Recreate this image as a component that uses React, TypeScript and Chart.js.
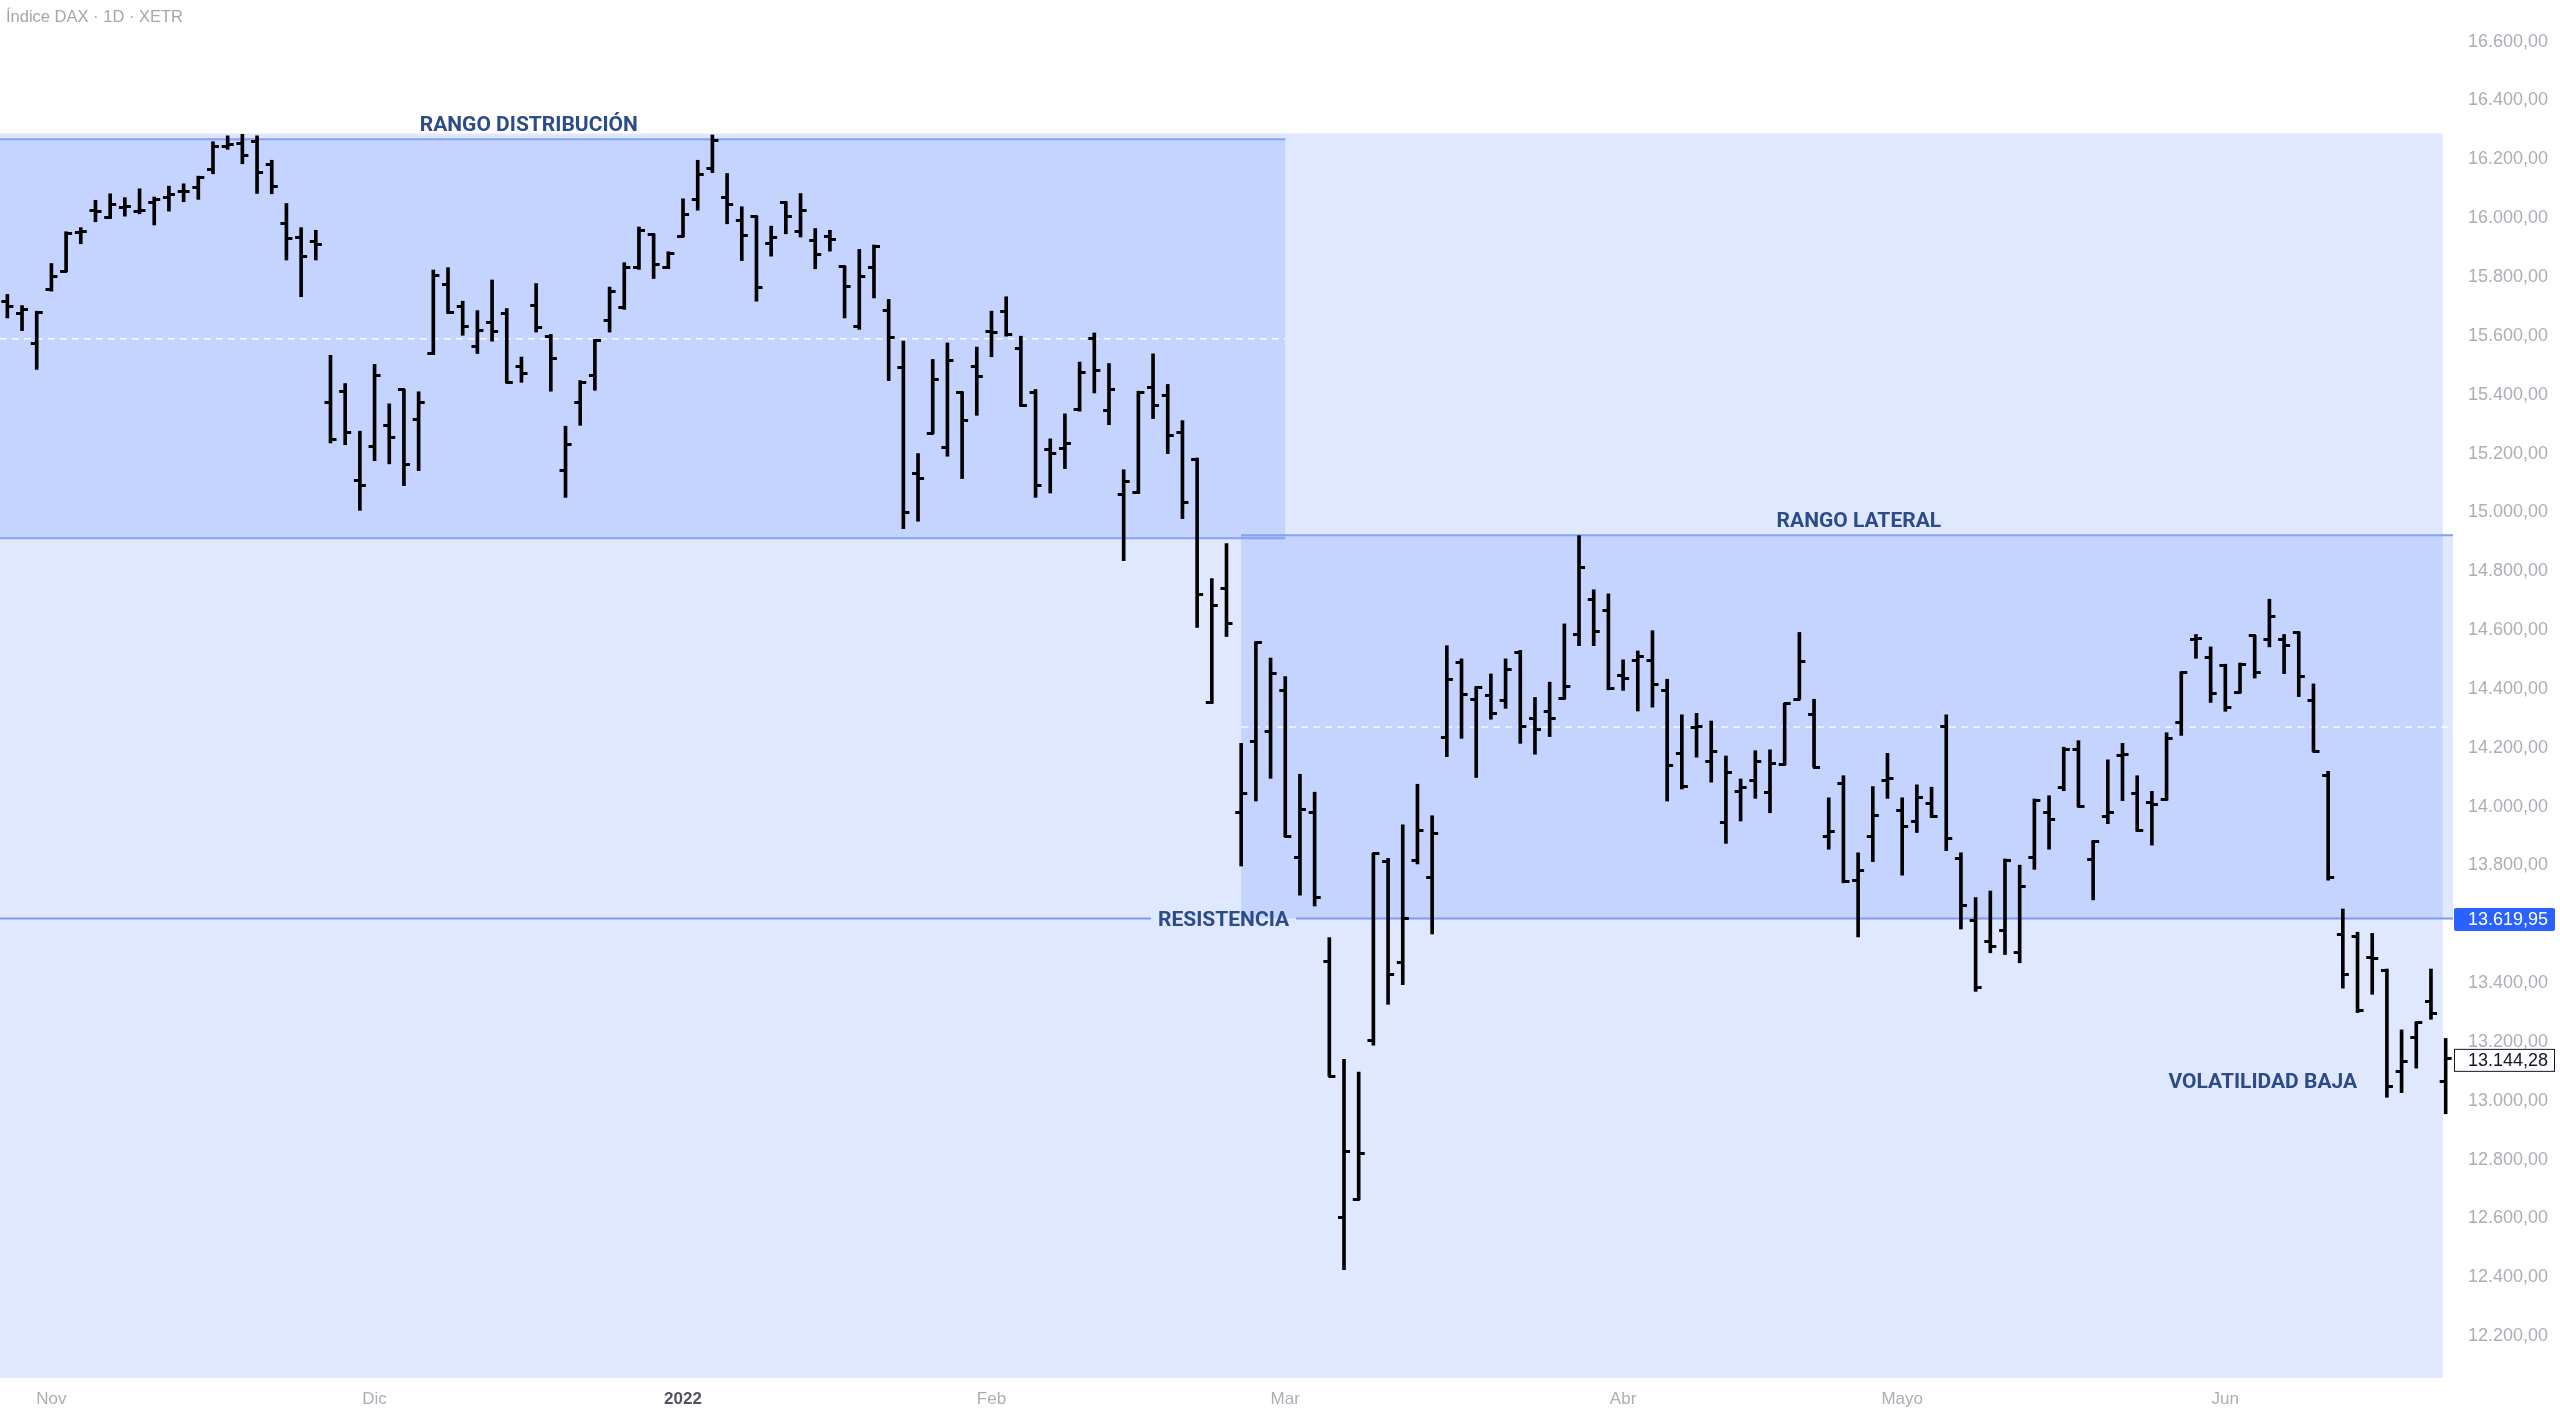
import React, { useEffect, useRef } from 'react';
import { Chart, registerables } from 'chart.js';

Chart.register(...registerables);

// Trading days per month (XETR, 27 Oct 2021 – 22 Jun 2022)
const octDays = [27, 28, 29];
const novDays = [1, 2, 3, 4, 5, 8, 9, 10, 11, 12, 15, 16, 17, 18, 19, 22, 23, 24, 25, 26, 29, 30];
const decDays = [1, 2, 3, 6, 7, 8, 9, 10, 13, 14, 15, 16, 17, 20, 21, 22, 23, 27, 28, 29, 30];
const janDays = [3, 4, 5, 6, 7, 10, 11, 12, 13, 14, 17, 18, 19, 20, 21, 24, 25, 26, 27, 28, 31];
const febDays = [1, 2, 3, 4, 7, 8, 9, 10, 11, 14, 15, 16, 17, 18, 21, 22, 23, 24, 25, 28];
const marDays = [1, 2, 3, 4, 7, 8, 9, 10, 11, 14, 15, 16, 17, 18, 21, 22, 23, 24, 25, 28, 29, 30, 31];
const aprDays = [1, 4, 5, 6, 7, 8, 11, 12, 13, 14, 19, 20, 21, 22, 25, 26, 27, 28, 29];
const mayDays = [2, 3, 4, 5, 6, 9, 10, 11, 12, 13, 16, 17, 18, 19, 20, 23, 24, 25, 26, 27, 30, 31];
const junDays = [1, 2, 3, 6, 7, 8, 9, 10, 13, 14, 15, 16, 17, 20, 21, 22];
const monthDays = [octDays, novDays, decDays, janDays, febDays, marDays, aprDays, mayDays, junDays];
const monthKeys = ['2021-10', '2021-11', '2021-12', '2022-01', '2022-02', '2022-03', '2022-04', '2022-05', '2022-06'];
const monthTickLabels = ['', 'Nov', 'Dic', '2022', 'Feb', 'Mar', 'Abr', 'Mayo', 'Jun'];

const opens = [
  15718, 15675, 15574, 15758, 15820, 15953, 16027, 16002, 16036, 16022,
  16053, 16070, 16090, 16104, 16166, 16245, 16253, 16262, 16183, 15981,
  15934, 15922, 15374, 15410, 15108, 15225, 15295, 15418, 15315, 15539,
  15775, 15701, 15563, 15647, 15675, 15495, 15703, 15599, 15143, 15372,
  15466, 15652, 15698, 15832, 15945, 15832, 15939, 16064, 16169, 16070,
  15993, 16005, 15913, 16053, 15954, 15924, 15939, 15835, 15633, 15832,
  15687, 15491, 15131, 15268, 15221, 15406, 15497, 15614, 15682, 15557,
  15406, 15213, 15216, 15349, 15590, 15347, 15060, 15066, 15423, 15398,
  15272, 15181, 14354, 14743, 13981, 14221, 14255, 14395, 13826, 13981,
  13475, 12603, 12664, 13206, 13813, 13469, 13816, 13758, 14236, 14490,
  14363, 14378, 14359, 14525, 14298, 14323, 14366, 14584, 14703, 14667,
  14445, 14495, 14495, 14393, 14179, 14269, 14155, 13947, 14053, 14088,
  14047, 14144, 14365, 14312, 13900, 14077, 13750, 13898, 14088, 13988,
  13951, 14011, 14272, 13824, 13614, 13543, 13580, 13503, 13827, 13979,
  14066, 14194, 13819, 13966, 14174, 14043, 14014, 14025, 14285, 14569,
  14508, 14478, 14389, 14582, 14567, 14567, 14591, 14360, 14105, 13564,
  13557, 13486, 13442, 13099, 13215, 13336, 13066,
];
const highs = [
  15741, 15703, 15684, 15846, 15954, 15968, 16061, 16083, 16070, 16100,
  16072, 16109, 16117, 16143, 16260, 16280, 16285, 16280, 16197, 16050,
  15968, 15959, 15534, 15438, 15276, 15503, 15369, 15418, 15410, 15824,
  15832, 15718, 15686, 15790, 15693, 15528, 15778, 15605, 15293, 15448,
  15588, 15766, 15849, 15970, 15947, 15886, 16066, 16197, 16283, 16152,
  16039, 16007, 15973, 16056, 16084, 15965, 15959, 15837, 15894, 15909,
  15724, 15582, 15200, 15520, 15576, 15410, 15562, 15684, 15733, 15599,
  15418, 15250, 15335, 15511, 15610, 15506, 15145, 15412, 15539, 15435,
  15312, 15185, 14775, 14894, 14215, 14561, 14505, 14442, 14110, 14049,
  13555, 13141, 13098, 13841, 13824, 13938, 14076, 13969, 14547, 14502,
  14408, 14451, 14502, 14531, 14371, 14423, 14621, 14921, 14737, 14723,
  14499, 14529, 14598, 14433, 14312, 14317, 14291, 14172, 14094, 14190,
  14193, 14351, 14592, 14365, 14030, 14105, 13843, 14068, 14181, 14030,
  14074, 14066, 14312, 13843, 13691, 13713, 13822, 13801, 14026, 14037,
  14202, 14224, 13884, 14159, 14215, 14105, 14052, 14251, 14458, 14585,
  14543, 14484, 14488, 14582, 14705, 14585, 14594, 14417, 14120, 13652,
  13573, 13569, 13448, 13241, 13268, 13448, 13212,
];
const lows = [
  15661, 15618, 15486, 15752, 15818, 15913, 15988, 15999, 16007, 16015,
  15977, 16024, 16056, 16064, 16151, 16234, 16185, 16084, 16083, 15858,
  15733, 15858, 15236, 15230, 15007, 15176, 15165, 15091, 15142, 15537,
  15676, 15602, 15540, 15582, 15440, 15442, 15613, 15412, 15051, 15296,
  15415, 15613, 15690, 15826, 15795, 15829, 15937, 16027, 16155, 15981,
  15856, 15718, 15871, 15947, 15936, 15828, 15888, 15661, 15622, 15729,
  15448, 14945, 14970, 15268, 15191, 15115, 15330, 15529, 15599, 15361,
  15051, 15066, 15149, 15344, 15406, 15298, 14836, 15064, 15319, 15200,
  14979, 14609, 14351, 14578, 13798, 14019, 14096, 13898, 13699, 13662,
  13084, 12426, 12664, 13189, 13328, 13395, 13805, 13567, 14170, 14232,
  14099, 14297, 14334, 14215, 14178, 14238, 14366, 14547, 14547, 14397,
  14395, 14325, 14338, 14019, 14060, 14168, 14083, 13875, 13951, 14028,
  13979, 14142, 14365, 14134, 13855, 13741, 13557, 13813, 14028, 13767,
  13912, 13963, 13850, 13584, 13372, 13503, 13497, 13469, 13787, 13855,
  14054, 13999, 13683, 13942, 14020, 13916, 13869, 14022, 14242, 14504,
  14354, 14324, 14386, 14437, 14543, 14452, 14374, 14188, 13750, 13383,
  13300, 13362, 13012, 13028, 13111, 13277, 12956,
];
const closes = [
  15700, 15690, 15678, 15801, 15948, 15956, 16024, 16047, 16040, 16027,
  16063, 16079, 16092, 16140, 16245, 16249, 16214, 16155, 16107, 15931,
  15871, 15909, 15247, 15272, 15092, 15466, 15256, 15162, 15372, 15805,
  15678, 15633, 15618, 15614, 15442, 15471, 15630, 15523, 15230, 15440,
  15585, 15750, 15832, 15959, 15843, 15879, 16013, 16147, 16265, 16045,
  15942, 15763, 15934, 16005, 16027, 15875, 15926, 15767, 15803, 15905,
  15596, 15001, 15115, 15452, 15517, 15312, 15463, 15613, 15605, 15363,
  15092, 15200, 15234, 15474, 15483, 15418, 15106, 15406, 15363, 15262,
  15035, 14722, 14684, 14621, 14043, 14558, 14451, 13898, 13991, 13690,
  13084, 12826, 12820, 13841, 13430, 13620, 13918, 13909, 14433, 14380,
  14406, 14317, 14465, 14272, 14263, 14298, 14408, 14813, 14595, 14403,
  14437, 14510, 14414, 14139, 14068, 14272, 14187, 14117, 14066, 14155,
  14145, 14351, 14493, 14134, 13915, 13745, 13782, 13971, 14095, 13932,
  14030, 13966, 13892, 13663, 13385, 13526, 13818, 13730, 14020, 13957,
  14194, 14002, 13883, 13981, 14176, 13919, 14007, 14230, 14455, 14572,
  14384, 14336, 14482, 14455, 14646, 14549, 14443, 14188, 13758, 13428,
  13306, 13483, 13048, 13132, 13265, 13297, 13144.28,
];

const yTickValues = [12200, 12400, 12600, 12800, 13000, 13200, 13400, 13600, 13800, 14000, 14200, 14400,
  14600, 14800, 15000, 15200, 15400, 15600, 15800, 16000, 16200, 16400, 16600];
const yMin = 12057.8;
const yMax = 16741.7;

// Drawing annotations (price levels and bar-index anchors)
const zoneTop = 16288;
const zoneRightIdx = 165.8;
const distTop = 16268;
const distBottom = 14912;
const distRightIdx = 87;
const latTop = 14922;
const latLeftIdx = 84;
const resistance = 13619.95;
const lastPrice = 13144.28;
const annotationTexts = [
  { text: 'RANGO DISTRIBUCIÓN', idx: 35.5, price: 16315 },
  { text: 'RANGO LATERAL', idx: 126.05, price: 14968 },
  { text: 'VOLATILIDAD BAJA', idx: 153.55, price: 13061 },
];
const resistanceLabel = { text: 'RESISTENCIA', idx: 82.8 };
const titleText = 'Índice DAX · 1D · XETR';

// Build categories
const labels: string[] = [];
const tickLabelByIndex: string[] = [];
monthDays.forEach((days, m) => {
  days.forEach((d, k) => {
    labels.push(`${monthKeys[m]}-${String(d).padStart(2, '0')}`);
    tickLabelByIndex.push(k === 0 ? monthTickLabels[m] : '');
  });
});

function fmtPrice(v: number): string {
  const [i, d] = Math.abs(v).toFixed(2).split('.');
  const withDots = i.replace(/\B(?=(\d{3})+(?!\d))/g, '.');
  return (v < 0 ? '-' : '') + withDots + ',' + d;
}

function makeTick(side: 'left' | 'right'): HTMLCanvasElement {
  const c = document.createElement('canvas');
  c.width = 14;
  c.height = 3;
  const g = c.getContext('2d')!;
  g.fillStyle = '#000000';
  if (side === 'left') g.fillRect(1, 0, 7, 3);
  else g.fillRect(6, 0, 7, 3);
  return c;
}

const FILL = 'rgba(41, 98, 255, 0.15)';
const LINE = '#86a1ef';
const TEXT_BLUE = '#2c4b88';
const AXIS_TEXT = '#abaeb5';
const AXIS_FONT = '"Liberation Sans", Arial, sans-serif';
const LABEL_FONT = '700 21px Roboto, "Noto Sans", sans-serif';

const overlayPlugin = {
  id: 'tvOverlay',
  beforeDatasetsDraw(chart: any) {
    const { ctx, chartArea, scales } = chart;
    const x = scales.x;
    const y = scales.y;
    const p0 = x.getPixelForValue(0);
    const p1 = x.getPixelForValue(1);
    const xs = (v: number) => p0 + (p1 - p0) * v;
    const ys = (v: number) => y.getPixelForValue(v);
    const L = chartArea.left;
    const R = chartArea.right;
    ctx.save();
    ctx.beginPath();
    ctx.rect(chartArea.left, chartArea.top, chartArea.right - chartArea.left, chartArea.bottom - chartArea.top);
    ctx.clip();

    ctx.fillStyle = FILL;
    ctx.fillRect(L, ys(zoneTop), xs(zoneRightIdx) - L, chartArea.bottom - ys(zoneTop));
    ctx.fillRect(L, ys(distTop), xs(distRightIdx) - L, ys(distBottom) - ys(distTop));
    ctx.fillRect(xs(latLeftIdx), ys(latTop), R - xs(latLeftIdx), ys(resistance) - ys(latTop));

    ctx.strokeStyle = 'rgba(255,255,255,0.85)';
    ctx.lineWidth = 1.5;
    ctx.setLineDash([7, 5]);
    const distMid = (distTop + distBottom) / 2;
    const latMid = (latTop + resistance) / 2;
    ctx.beginPath();
    ctx.moveTo(L, ys(distMid));
    ctx.lineTo(xs(distRightIdx), ys(distMid));
    ctx.moveTo(xs(latLeftIdx), ys(latMid));
    ctx.lineTo(R, ys(latMid));
    ctx.stroke();
    ctx.setLineDash([]);

    ctx.strokeStyle = LINE;
    ctx.lineWidth = 2;
    ctx.beginPath();
    ctx.moveTo(L, ys(distTop));
    ctx.lineTo(xs(distRightIdx), ys(distTop));
    ctx.moveTo(L, ys(distBottom));
    ctx.lineTo(xs(distRightIdx), ys(distBottom));
    ctx.moveTo(xs(latLeftIdx), ys(latTop));
    ctx.lineTo(R, ys(latTop));
    ctx.stroke();

    ctx.font = LABEL_FONT;
    const w = ctx.measureText(resistanceLabel.text).width;
    const cx = xs(resistanceLabel.idx);
    const ry = ys(resistance);
    ctx.strokeStyle = '#7f9bef';
    ctx.beginPath();
    ctx.moveTo(L, ry);
    ctx.lineTo(cx - w / 2 - 7, ry);
    ctx.moveTo(cx + w / 2 + 7, ry);
    ctx.lineTo(R, ry);
    ctx.stroke();
    ctx.restore();
  },
  afterDraw(chart: any) {
    const { ctx, scales, chartArea } = chart;
    const x = scales.x;
    const y = scales.y;
    const p0 = x.getPixelForValue(0);
    const p1 = x.getPixelForValue(1);
    const xs = (v: number) => p0 + (p1 - p0) * v;
    const ys = (v: number) => y.getPixelForValue(v);
    ctx.save();
    ctx.font = LABEL_FONT;
    ctx.fillStyle = TEXT_BLUE;
    ctx.textAlign = 'center';
    ctx.textBaseline = 'middle';
    annotationTexts.forEach((t) => ctx.fillText(t.text, xs(t.idx), ys(t.price)));
    ctx.fillText(resistanceLabel.text, xs(resistanceLabel.idx), ys(resistance) + 2.5);

    ctx.font = `16.5px ${AXIS_FONT}`;
    ctx.fillStyle = '#a3a6ae';
    ctx.textAlign = 'left';
    ctx.fillText(titleText, 6, 17);

    const bx = chartArea.right + 1;
    const bw = 101;
    const bh = 23;
    ctx.font = `18px ${AXIS_FONT}`;
    ctx.textBaseline = 'middle';
    let cy = ys(resistance) + 1;
    ctx.fillStyle = '#2962ff';
    ctx.beginPath();
    (ctx as any).roundRect(bx, cy - bh / 2, bw, bh, 2);
    ctx.fill();
    ctx.fillStyle = '#ffffff';
    ctx.fillText(fmtPrice(resistance), bx + 14, cy + 1);
    cy = ys(lastPrice) + 2;
    ctx.fillStyle = '#ffffff';
    ctx.fillRect(bx, cy - bh / 2, bw, bh);
    ctx.strokeStyle = '#131722';
    ctx.lineWidth = 1;
    ctx.strokeRect(bx + 0.5, cy - bh / 2 + 0.5, bw - 1, bh - 1);
    ctx.fillStyle = '#131722';
    ctx.fillText(fmtPrice(lastPrice), bx + 14, cy + 1);
    ctx.restore();
  },
};

export default function App() {
  const canvasRef = useRef<HTMLCanvasElement | null>(null);

  useEffect(() => {
    document.body.style.margin = '0';
    document.body.style.background = '#ffffff';
    const canvas = canvasRef.current;
    if (!canvas) return;
    const openTick = makeTick('left');
    const closeTick = makeTick('right');

    const chart = new Chart(canvas, {
      type: 'bar',
      data: {
        labels,
        datasets: [
          {
            type: 'line',
            label: 'Apertura',
            data: opens,
            showLine: false,
            pointStyle: openTick as any,
            pointRadius: 3,
            pointHoverRadius: 3,
          } as any,
          {
            type: 'line',
            label: 'Cierre',
            data: closes,
            showLine: false,
            pointStyle: closeTick as any,
            pointRadius: 3,
            pointHoverRadius: 3,
          } as any,
          {
            type: 'bar',
            label: 'Rango',
            data: lows.map((l, i) => [l, highs[i]]),
            backgroundColor: '#000000',
            borderWidth: 0,
            barThickness: 3,
          } as any,
        ],
      },
      options: {
        animation: false,
        responsive: false,
        devicePixelRatio: 1,
        events: [],
        layout: { padding: 0, autoPadding: false },
        plugins: {
          legend: { display: false },
          tooltip: { enabled: false },
          title: { display: false },
        },
        scales: {
          x: {
            type: 'category',
            offset: true,
            grid: { display: false, drawTicks: false },
            border: { display: false },
            ticks: {
              autoSkip: false,
              maxRotation: 0,
              minRotation: 0,
              padding: 11,
              callback: (_v: any, i: number) => tickLabelByIndex[i] || '',
              font: (c: any) =>
                tickLabelByIndex[c.index] === '2022'
                  ? { family: AXIS_FONT, size: 17, weight: 'bold' }
                  : { family: AXIS_FONT, size: 17 },
              color: (c: any) => (tickLabelByIndex[c.index] === '2022' ? '#50535e' : AXIS_TEXT),
            },
            afterFit: (s: any) => {
              s.height = 36;
              s.paddingLeft = 0;
              s.paddingRight = 0;
            },
          } as any,
          y: {
            position: 'right',
            min: yMin,
            max: yMax,
            grid: { display: false, drawTicks: false },
            border: { display: false },
            ticks: {
              padding: 15,
              font: { family: AXIS_FONT, size: 18 },
              color: AXIS_TEXT,
              callback: (v: any) => fmtPrice(Number(v)),
            },
            afterBuildTicks: (s: any) => {
              s.ticks = yTickValues.map((v) => ({ value: v }));
            },
            afterFit: (s: any) => {
              s.width = 107;
              s.paddingTop = 0;
              s.paddingBottom = 0;
            },
          } as any,
        },
      },
      plugins: [overlayPlugin],
    } as any);

    return () => chart.destroy();
  }, []);

  return (
    <div style={{ width: 2560, height: 1414, background: '#ffffff' }}>
      <canvas ref={canvasRef} width={2560} height={1414} style={{ display: 'block', width: 2560, height: 1414 }} />
    </div>
  );
}
